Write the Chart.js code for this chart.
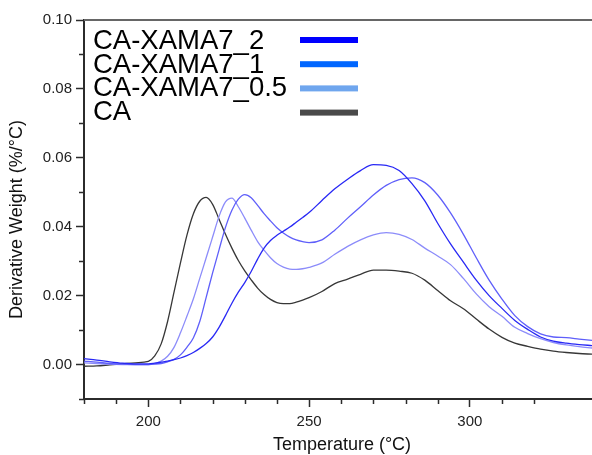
<!DOCTYPE html>
<html>
<head>
<meta charset="utf-8">
<script src="https://cdn.jsdelivr.net/npm/chart.js@4/dist/chart.umd.min.js"></script>
<style>
  html, body { margin: 0; padding: 0; background: #fff; overflow: hidden; }
  #wrap { width: 592px; height: 455px; position: relative; overflow: hidden; }
  #dtg { display: block; }
</style>
</head>
<body>
<div id="wrap"><canvas id="dtg" width="592" height="455"></canvas></div>
<script>
// Temperature grid (°C)
const temperatures = [
  180, 184, 188, 192, 196,
  200, 202, 204, 206, 208, 210, 212, 214, 216, 218, 220, 222, 224, 226, 228,
  230, 232, 234, 236, 238, 240, 242, 244, 246, 248, 250,
  254, 258, 262, 266, 270, 274, 278, 282, 286, 290, 294, 298, 302, 306, 310,
  314, 318, 322, 326, 330, 334, 338
];

// Derivative weight (%/°C) for each sample
const ca_xama7_2 = [
  0.0017, 0.0013, 0.0008, 0.0004, 0.0002,
  0.0002, 0.0004, 0.0007, 0.0010, 0.0014, 0.0019, 0.0026, 0.0035, 0.0047, 0.0061, 0.0080, 0.0108, 0.0142, 0.0178, 0.0210,
  0.0238, 0.0270, 0.0306, 0.0338, 0.0360, 0.0375, 0.0387, 0.0399, 0.0413, 0.0427, 0.0441,
  0.0476, 0.0510, 0.0538, 0.0563, 0.0580, 0.0578, 0.0563, 0.0525, 0.0475, 0.0410, 0.0350, 0.0297, 0.0245, 0.0200, 0.0163,
  0.0128, 0.0102, 0.0080, 0.0068, 0.0062, 0.0058, 0.0055
];
const ca_xama7_1 = [
  0.0010, 0.0007, 0.0003, 0.0001, 0.0000,
  0.0000, 0.0001, 0.0003, 0.0008, 0.0015, 0.0028, 0.0050, 0.0077, 0.0125, 0.0195, 0.0266, 0.0333, 0.0398, 0.0448, 0.0480,
  0.0493, 0.0484, 0.0462, 0.0438, 0.0417, 0.0397, 0.0382, 0.0370, 0.0362, 0.0357, 0.0354,
  0.0362, 0.0390, 0.0425, 0.0458, 0.0492, 0.0520, 0.0537, 0.0542, 0.0528, 0.0492, 0.0440, 0.0378, 0.0310, 0.0245, 0.0190,
  0.0142, 0.0110, 0.0089, 0.0080, 0.0078, 0.0074, 0.0070
];
const ca_xama7_05 = [
  0.0005, 0.0003, 0.0001, 0.0000, 0.0000,
  0.0000, 0.0003, 0.0010, 0.0024, 0.0050, 0.0092, 0.0140, 0.0190, 0.0250, 0.0310, 0.0370, 0.0430, 0.0472, 0.0483, 0.0458,
  0.0425, 0.0390, 0.0357, 0.0332, 0.0310, 0.0293, 0.0283, 0.0277, 0.0276, 0.0278, 0.0282,
  0.0295, 0.0320, 0.0343, 0.0362, 0.0376, 0.0383, 0.0378, 0.0363, 0.0338, 0.0315, 0.0290, 0.0250, 0.0205, 0.0168, 0.0140,
  0.0108, 0.0090, 0.0075, 0.0064, 0.0057, 0.0052, 0.0048
];
const ca = [
  -0.0005, -0.0004, -0.0001, 0.0002, 0.0005,
  0.0009, 0.0025, 0.0060, 0.0125, 0.0210, 0.0295, 0.0375, 0.0437, 0.0474, 0.0485, 0.0465, 0.0422, 0.0378, 0.0338, 0.0302,
  0.0272, 0.0246, 0.0222, 0.0203, 0.0189, 0.0180, 0.0177, 0.0177, 0.0181, 0.0187, 0.0194,
  0.0212, 0.0235, 0.0248, 0.0262, 0.0274, 0.0274, 0.0271, 0.0265, 0.0245, 0.0215, 0.0185, 0.0162, 0.0132, 0.0103, 0.0079,
  0.0062, 0.0053, 0.0045, 0.0039, 0.0035, 0.0032, 0.0030
];

const seriesNames = ['CA-XAMA7_2', 'CA-XAMA7_1', 'CA-XAMA7_0.5', 'CA'];
const seriesValues = [ca_xama7_2, ca_xama7_1, ca_xama7_05, ca];
const curveColors = ['rgb(40,40,245)', 'rgb(95,95,250)', 'rgb(140,140,250)', 'rgb(55,55,55)'];
const keyColors = ['#0000ff', '#0066ff', '#6fa6ee', '#4a4a4a'];

const xTitle = 'Temperature (°C)';
const yTitle = 'Derivative Weight (%/°C)';

const AXIS_COLOR = '#2b2b2b';
const FONT = '"Liberation Sans", Arial, sans-serif';

const datasets = seriesNames.map((name, i) => ({
  label: name,
  data: temperatures.map((t, j) => ({ x: t, y: seriesValues[i][j] })),
  borderColor: curveColors[i],
  backgroundColor: curveColors[i],
  borderWidth: 1.3,
  pointRadius: 0,
  cubicInterpolationMode: 'monotone',
  fill: false,
  keyColor: keyColors[i]
}));

// Short minor tick marks between the labelled major ticks, the top frame line and axis titles
const axisDecor = {
  id: 'axisDecor',
  afterDraw(chart) {
    const ctx = chart.ctx;
    const area = chart.chartArea;
    ctx.save();
    ctx.strokeStyle = AXIS_COLOR;
    ctx.lineWidth = 1.5;
    const xs = chart.scales.x;
    xs.ticks.forEach(t => {
      const v = Math.round(t.value);
      if (v % 10 === 0 && v % 50 !== 0) {
        const px = Math.round(xs.getPixelForValue(v)) + 0.5;
        ctx.beginPath();
        ctx.moveTo(px, area.bottom);
        ctx.lineTo(px, area.bottom + 5);
        ctx.stroke();
      }
    });
    const ys = chart.scales.y;
    ys.ticks.forEach(t => {
      const v = Math.round(t.value * 1000);
      if (v % 10 === 0 && v % 20 !== 0) {
        const py = Math.round(ys.getPixelForValue(t.value)) + 0.5;
        ctx.beginPath();
        ctx.moveTo(area.left, py);
        ctx.lineTo(area.left - 5, py);
        ctx.stroke();
      }
    });
    // top frame
    ctx.strokeStyle = '#666';
    ctx.lineWidth = 2;
    ctx.beginPath();
    ctx.moveTo(area.left, area.top);
    ctx.lineTo(chart.width, area.top);
    ctx.stroke();

    // axis titles
    ctx.fillStyle = '#111';
    ctx.font = '18px ' + FONT;
    ctx.textAlign = 'center';
    ctx.textBaseline = 'middle';
    ctx.fillText(xTitle, (area.left + area.right) / 2 + 4, area.bottom + 46);
    ctx.translate(17, (area.top + area.bottom) / 2 + 10);
    ctx.rotate(-Math.PI / 2);
    ctx.fillText(yTitle, 0, 0);
    ctx.restore();
  }
};

// Key: series name on the left, colour bar on the right
const sideKey = {
  id: 'sideKey',
  afterDraw(chart) {
    const ctx = chart.ctx;
    ctx.save();
    ctx.font = '27.5px ' + FONT;
    ctx.textBaseline = 'alphabetic';
    ctx.textAlign = 'left';
    chart.data.datasets.forEach((ds, i) => {
      const base = 49.3 + i * 23.4;
      ctx.fillStyle = '#000';
      ctx.fillText(ds.label, 93, base);
      ctx.fillStyle = ds.keyColor;
      ctx.fillRect(300, 37 + i * 24.2, 58, 6);
    });
    ctx.restore();
  }
};

new Chart(document.getElementById('dtg'), {
  type: 'line',
  data: { datasets },
  options: {
    responsive: false,
    animation: false,
    layout: { autoPadding: false, padding: { top: 20, right: 0, left: 0, bottom: 0 } },
    plugins: { legend: { display: false }, tooltip: { enabled: false } },
    scales: {
      x: {
        type: 'linear',
        min: 180,
        max: 338,
        afterFit(scale) {
          scale.height = 56;
          scale.paddingLeft = 0;
          scale.paddingRight = 0;
        },
        border: { display: true, color: AXIS_COLOR, width: 2 },
        grid: {
          drawOnChartArea: false,
          drawTicks: true,
          tickLength: 8,
          tickWidth: 1.5,
          tickColor: c => (c.tick && Math.round(c.tick.value) % 50 === 0) ? AXIS_COLOR : 'rgba(0,0,0,0)'
        },
        ticks: {
          stepSize: 10,
          autoSkip: false,
          maxRotation: 0,
          padding: 6,
          color: '#222',
          font: { family: FONT, size: 15 },
          callback: v => (Math.round(v) % 50 === 0 ? String(Math.round(v)) : '')
        }
      },
      y: {
        type: 'linear',
        min: -0.01,
        max: 0.10,
        afterFit(scale) { scale.width = 84; },
        border: { display: true, color: AXIS_COLOR, width: 2 },
        grid: {
          drawOnChartArea: false,
          drawTicks: true,
          tickLength: 8,
          tickWidth: 1.5,
          tickColor: c => (c.tick && Math.round(c.tick.value * 1000) % 20 === 0) ? AXIS_COLOR : 'rgba(0,0,0,0)'
        },
        ticks: {
          stepSize: 0.01,
          autoSkip: false,
          padding: 4,
          color: '#222',
          font: { family: FONT, size: 15 },
          callback: v => (Math.round(v * 1000) % 20 === 0 ? v.toFixed(2) : '')
        }
      }
    }
  },
  plugins: [axisDecor, sideKey]
});
</script>
</body>
</html>
